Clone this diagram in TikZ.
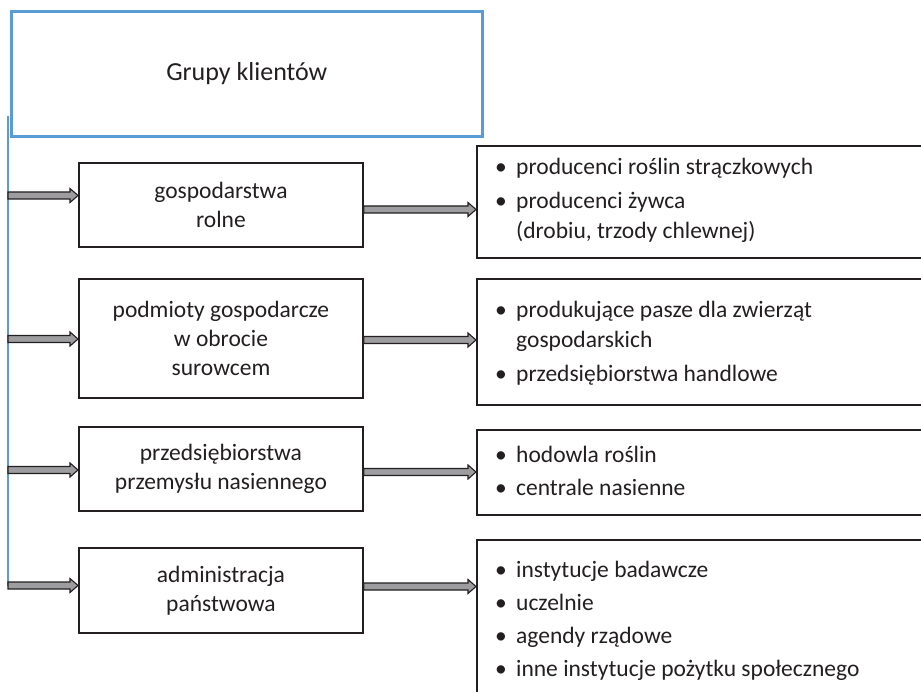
\documentclass[tikz,border=0pt]{standalone}
\usepackage{fontspec}
\setmainfont{Carlito}
\usetikzlibrary{calc}
\definecolor{frameblue}{HTML}{5B9BD5}
\definecolor{arrowgray}{HTML}{9D9D9F}
\definecolor{ink}{HTML}{231F20}

% block arrow from the first point to the x of the second point, at the height of the first
\newcommand\blockarrow[2]{%
  \draw[blockarrow] let \p1=(#1), \p2=(#2) in
    (\x1,\y1+3.5pt) -- (\x2-8pt,\y1+3.5pt) -- (\x2-8pt,\y1+7pt) -- (\x2,\y1)
    -- (\x2-8pt,\y1-7pt) -- (\x2-8pt,\y1-3.5pt) -- (\x1,\y1-3.5pt) -- cycle;}
\newcommand\bul{\makebox[21pt][l]{\textbullet}}
\newcommand\cont{\makebox[21pt][l]{}}

\begin{document}
\begin{tikzpicture}[x=1pt,y=-1pt,
  bodyfont/.style={font=\fontsize{23.5}{29}\selectfont, text=ink},
  topbox/.style={draw=frameblue, line width=2.6pt, rectangle, inner sep=0pt,
    font=\fontsize{26}{31}\selectfont, text=ink},
  groupbox/.style={draw=ink, line width=1.9pt, rectangle, inner sep=0pt,
    minimum width=284pt, align=center, bodyfont},
  listbox/.style={draw=ink, line width=1.9pt, rectangle, inner sep=0pt,
    minimum width=460pt, anchor=north west},
  listtext/.style={anchor=base west, inner sep=0pt, bodyfont},
  blockarrow/.style={draw=ink, line width=1.1pt, fill=arrowgray, line join=miter},
  spine/.style={draw=frameblue, line width=2.6pt}]
\useasboundingbox (0,0) rectangle (921,692);
\clip (0,0) rectangle (921,692);

% title box
\node[topbox, minimum width=471pt, minimum height=125pt, anchor=north west]
  (top) at (10,10) {Grupy klientów};

% client groups
\node[groupbox, minimum height=84pt, anchor=north west] (L1) at (78,162)
  {gospodarstwa\\rolne};
\node[groupbox, minimum height=119pt, anchor=north west] (L2) at (78,278)
  {podmioty gospodarcze\\w obrocie\\surowcem};
\node[groupbox, minimum height=84pt, anchor=north west] (L3) at (78,426)
  {przedsiębiorstwa\\przemysłu nasiennego};
\node[groupbox, minimum height=85pt, anchor=north west] (L4) at (78,547)
  {administracja\\państwowa};

% lists of members
\node[listbox, minimum height=112pt] (R1) at (476,145) {};
\node[listbox, minimum height=126pt] (R2) at (476,278) {};
\node[listbox, minimum height=85pt] (R3) at (476,429) {};
\node[listbox, minimum height=170pt] (R4) at (476,539) {};

\node[listtext] (t11) at ($(R1.north west)+(19,30)$) {\bul producenci roślin strączkowych};
\node[listtext] (t12) at ($(R1.north west)+(19,64)$) {\bul producenci żywca};
\node[listtext] (t13) at ($(R1.north west)+(19,94)$) {\cont (drobiu, trzody chlewnej)};

\node[listtext] (t21) at ($(R2.north west)+(19,40)$) {\bul produkujące pasze dla zwierząt};
\node[listtext] (t22) at ($(R2.north west)+(19,70)$) {\cont gospodarskich};
\node[listtext] (t23) at ($(R2.north west)+(19,104)$) {\bul przedsiębiorstwa handlowe};

\node[listtext] (t31) at ($(R3.north west)+(19,33)$) {\bul hodowla roślin};
\node[listtext] (t32) at ($(R3.north west)+(19,66)$) {\bul centrale nasienne};

\node[listtext] (t41) at ($(R4.north west)+(19,38)$) {\bul instytucje badawcze};
\node[listtext] (t42) at ($(R4.north west)+(19,71)$) {\bul uczelnie};
\node[listtext] (t43) at ($(R4.north west)+(19,104)$) {\bul agendy rządowe};
\node[listtext] (t44) at ($(R4.north west)+(19,137)$) {\bul inne instytucje pożytku społecznego};

% spine and arrow levels
\coordinate (spinetop) at ($(top.south west)+(-2,-22)$);
\coordinate (s1) at (spinetop |- 0,195.5);
\coordinate (s2) at (spinetop |- 0,339);
\coordinate (s3) at (spinetop |- 0,470);
\coordinate (s4) at (spinetop |- 0,585.5);
\coordinate (a1) at (0,209.5);
\coordinate (a2) at (0,340);
\coordinate (a3) at (0,472);
\coordinate (a4) at (0,586.5);

\draw[spine] (spinetop) -- (s4);

\blockarrow{s1}{L1.west |- s1}
\blockarrow{s2}{L2.west |- s2}
\blockarrow{s3}{L3.west |- s3}
\blockarrow{s4}{L4.west |- s4}

\blockarrow{L1.east |- a1}{R1.west |- a1}
\blockarrow{L2.east |- a2}{R2.west |- a2}
\blockarrow{L3.east |- a3}{R3.west |- a3}
\blockarrow{L4.east |- a4}{R4.west |- a4}
\end{tikzpicture}
\end{document}
